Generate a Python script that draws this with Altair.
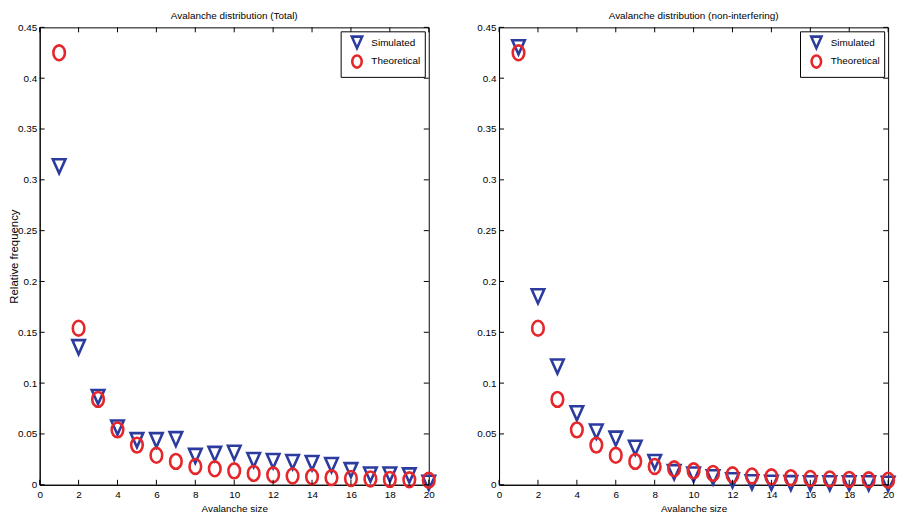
import altair as alt
import pandas as pd

# ---- data ----
sizes = list(range(1, 21))
theoretical = [0.425, 0.154, 0.084, 0.054, 0.039, 0.029, 0.023, 0.018, 0.0157, 0.0137,
               0.0112, 0.0098, 0.0087, 0.0078, 0.0070, 0.0062, 0.0057, 0.0053, 0.0049, 0.0045]
total_simulated = [0.313, 0.135, 0.086, 0.056, 0.0435, 0.0435, 0.0445, 0.028, 0.030, 0.031,
                   0.024, 0.023, 0.022, 0.021, 0.019, 0.014, 0.0097, 0.0097, 0.0088, 0.0016]
nonint_simulated = [0.430, 0.185, 0.116, 0.070, 0.052, 0.045, 0.036, 0.022, 0.012, 0.0097,
                    0.007, 0.004, 0.002, 0.0015, 0.0012, 0.001, 0.001, 0.001, 0.001, 0.0005]
series_names = ["Simulated", "Theoretical"]
x_ticks = list(range(0, 21, 2))
y_ticks = [0, 0.05, 0.1, 0.15, 0.2, 0.25, 0.3, 0.35, 0.4, 0.45]
titles = ["Avalanche distribution (Total)", "Avalanche distribution (non-interfering)"]

W, H = 393, 462
TICK = 5
FONT = "Liberation Sans, Arial, sans-serif"
BLUE = "#2b3b9e"
RED = "#e5262a"
TRI = "M -0.85,-1 L 0.85,-1 L 0,0.9 Z"
ELL = "M -0.78,0 A 0.78,1 0 1,0 0.78,0 A 0.78,1 0 1,0 -0.78,0 Z"


def long_df(sim):
    rows = []
    for s, v in zip(sizes, sim):
        rows.append({"size": s, "freq": v, "series": series_names[0]})
    for s, v in zip(sizes, theoretical):
        rows.append({"size": s, "freq": v, "series": series_names[1]})
    return pd.DataFrame(rows)


xtick_df = pd.DataFrame({"t": x_ticks})
ytick_df = pd.DataFrame({"t": y_ticks})


def panel(sim, title, show_ytitle):
    xs = alt.Scale(domain=[0, 20], nice=False, zero=False)
    ys = alt.Scale(domain=[0, 0.45], nice=False)
    xaxis = alt.Axis(values=x_ticks, title="Avalanche size",
                     labelOverlap=False, labelFlush=False)
    yaxis = alt.Axis(values=y_ticks, format="~g", labelOverlap=False, labelFlush=False,
                     title="Relative frequency" if show_ytitle else None)
    pts = alt.Chart(long_df(sim)).mark_point(
        filled=False, strokeWidth=2.6, size=225, opacity=1
    ).encode(
        x=alt.X("size:Q", scale=xs, axis=xaxis),
        y=alt.Y("freq:Q", scale=ys, axis=yaxis),
        color=alt.Color("series:N", scale=alt.Scale(domain=series_names, range=[BLUE, RED]),
                        legend=alt.Legend(title=None, orient="top-right", offset=4,
                                          fillColor="white", strokeColor="black",
                                          padding=4, rowPadding=-6, symbolOffset=5,
                                          labelOffset=7, labelFont=FONT, labelFontSize=10,
                                          labelColor="black", symbolSize=150,
                                          symbolStrokeWidth=2.6, cornerRadius=0)),
        shape=alt.Shape("series:N", scale=alt.Scale(domain=series_names, range=[TRI, ELL]),
                        legend=None),
        order=alt.Order("series:N"),
    )
    tx_top = alt.Chart(xtick_df).mark_rule(color="black", strokeWidth=1).encode(
        x=alt.X("t:Q", scale=xs, axis=xaxis), y=alt.value(0), y2=alt.value(TICK))
    tx_bot = alt.Chart(xtick_df).mark_rule(color="black", strokeWidth=1).encode(
        x=alt.X("t:Q", scale=xs, axis=xaxis), y=alt.value(H), y2=alt.value(H - TICK))
    ty_left = alt.Chart(ytick_df).mark_rule(color="black", strokeWidth=1).encode(
        y=alt.Y("t:Q", scale=ys, axis=yaxis), x=alt.value(0), x2=alt.value(TICK))
    ty_right = alt.Chart(ytick_df).mark_rule(color="black", strokeWidth=1).encode(
        y=alt.Y("t:Q", scale=ys, axis=yaxis), x=alt.value(W), x2=alt.value(W - TICK))
    return alt.layer(pts, tx_top, tx_bot, ty_left, ty_right).properties(
        width=W, height=H,
        title=alt.Title(title, font=FONT, fontSize=10, fontWeight="normal",
                        color="black", anchor="middle", offset=1),
    )


left = panel(total_simulated, titles[0], True)
right = panel(nonint_simulated, titles[1], False)

chart = alt.hconcat(left, right, spacing=35).resolve_legend(
    color="independent", shape="independent"
).resolve_scale(color="independent", shape="independent").properties(
    padding={"left": 0, "top": 0, "right": 0, "bottom": 0}
).configure_view(
    stroke="black", strokeWidth=1
).configure_axis(
    domain=True, domainColor="black", ticks=False, grid=False,
    labelFont=FONT, labelFontSize=10, labelColor="black", labelPadding=3,
    titleFont=FONT, titleFontSize=11.5, titleFontWeight="normal",
    titleColor="black",
).configure_axisX(
    titleFontSize=10, titlePadding=4, labelPadding=5
).configure_axisY(
    titlePadding=-2
)

chart.save("out.html", embed_options={"renderer": "svg", "actions": False})
